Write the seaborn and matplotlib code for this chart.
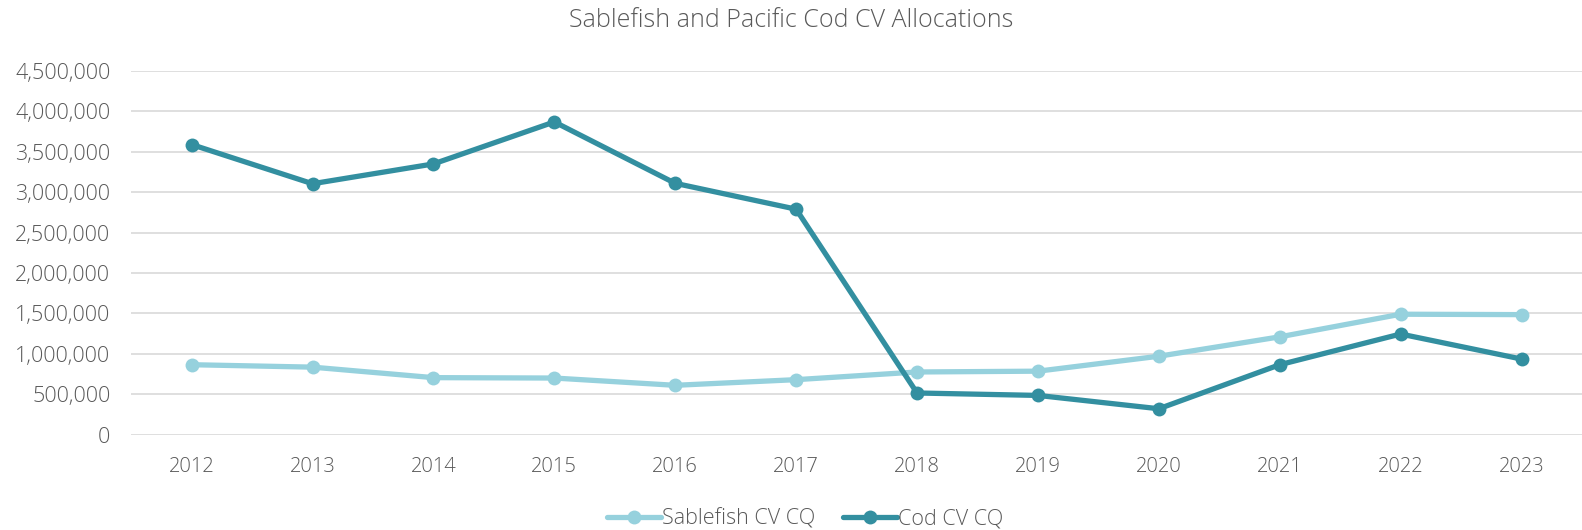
import pandas as pd
import matplotlib.pyplot as plt
import seaborn as sns
from matplotlib.ticker import FuncFormatter

# Values
years = [2012, 2013, 2014, 2015, 2016, 2017, 2018, 2019, 2020, 2021, 2022, 2023]
sablefish_cv = [865000, 835000, 705000, 700000, 610000, 680000, 775000, 785000, 970000, 1210000, 1490000, 1485000]
cod_cv = [3590000, 3105000, 3350000, 3870000, 3110000, 2790000, 515000, 485000, 320000, 865000, 1245000, 935000]
series_names = ["Sablefish CV CQ", "Cod CV CQ"]
colors = ["#96D1DD", "#338FA0"]

sns.set_theme(style="white")
plt.rcParams['font.family'] = ['Open Sans', 'DejaVu Sans']
plt.rcParams['font.weight'] = 'light'

df = pd.DataFrame({
    "Year": [str(y) for y in years] * 2,
    "Value": sablefish_cv + cod_cv,
    "Series": [series_names[0]] * len(years) + [series_names[1]] * len(years),
})

fig = plt.figure(figsize=(15.82, 5.3), dpi=100)
ax = fig.add_axes([0.0829, 0.180, 0.9171, 0.686])

sns.lineplot(data=df, x="Year", y="Value", hue="Series", hue_order=series_names,
             palette=colors, marker="o", markersize=10, markeredgewidth=0,
             linewidth=3.8, sort=False, ax=ax, legend=False)

ax.set_ylim(0, 4500000)
ax.set_yticks(range(0, 4500001, 500000))
ax.yaxis.set_major_formatter(FuncFormatter(lambda v, p: f"{int(v):,}"))
ax.set_xlim(-0.5, len(years) - 0.5)
ax.grid(axis="y", color="#D9D9D9", linewidth=1.2)
ax.set_axisbelow(True)
for s in ax.spines.values():
    s.set_visible(False)
ax.set_xlabel("")
ax.set_ylabel("")
ax.tick_params(axis="x", length=0, labelsize=14.5, labelcolor="#595959", pad=16)
ax.tick_params(axis="y", length=0, labelsize=15.5, labelcolor="#595959", pad=15)

fig.text(0.5, 0.962, "Sablefish and Pacific Cod CV Allocations", ha="center", va="center",
         fontsize=18, color="#595959")

handles = [plt.Line2D([], [], color=c, linewidth=3.8, marker="o", markersize=10, markeredgewidth=0)
           for c in colors]
fig.legend(handles, series_names, loc="center", bbox_to_anchor=(0.509, 0.02), ncol=2,
           frameon=False, fontsize=15.5, labelcolor="#595959", handlelength=2.5,
           handletextpad=0.05, columnspacing=1.3)

fig.savefig("out.png", dpi=100)
